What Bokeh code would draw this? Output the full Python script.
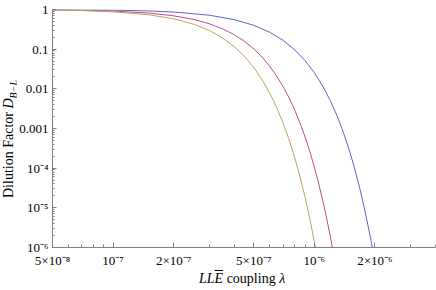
from bokeh.plotting import figure
from bokeh.models import FixedTicker, CustomJSTickFormatter, Div
from bokeh.layouts import row, column
from bokeh.embed import file_html
from bokeh.resources import INLINE

# coupling lambda (units of 1e-6) and dilution factor
lam_blue = [0.05, 0.07, 0.1, 0.15, 0.2, 0.3, 0.4, 0.5, 0.6, 0.7, 0.8, 0.9, 1.0,
            1.1, 1.2, 1.3, 1.4, 1.5, 1.6, 1.7, 1.8, 1.9, 2.0]
d_blue = [0.991, 0.982, 0.964, 0.921, 0.863, 0.719, 0.556, 0.400, 0.267, 0.166,
          0.0955, 0.0512, 0.0255, 0.0118, 5.07e-3, 2.03e-3, 7.5e-4, 2.6e-4,
          8.3e-5, 2.5e-5, 6.8e-6, 1.8e-6, 4.2e-7]

lam_red = [0.05, 0.07, 0.1, 0.15, 0.2, 0.25, 0.3, 0.35, 0.4, 0.45, 0.5, 0.55, 0.6,
           0.65, 0.7, 0.75, 0.8, 0.85, 0.9, 0.95, 1.0, 1.05, 1.1, 1.15, 1.2, 1.25]
d_red = [0.977, 0.956, 0.913, 0.814, 0.694, 0.565, 0.439, 0.326, 0.232, 0.157,
         0.102, 0.0630, 0.0372, 0.0210, 0.0113, 5.85e-3, 2.88e-3, 1.35e-3,
         6.09e-4, 2.62e-4, 1.07e-4, 4.19e-5, 1.57e-5, 5.62e-6, 1.92e-6, 6.27e-7]

lam_olive = [0.05, 0.07, 0.1, 0.15, 0.2, 0.25, 0.3, 0.35, 0.4, 0.45, 0.5, 0.55,
             0.6, 0.65, 0.7, 0.75, 0.8, 0.85, 0.9, 0.95, 1.0, 1.05]
d_olive = [0.967, 0.936, 0.874, 0.739, 0.583, 0.431, 0.298, 0.192, 0.116, 0.0654,
           0.0345, 0.0170, 7.84e-3, 3.38e-3, 1.36e-3, 5.12e-4, 1.80e-4, 5.94e-5,
           1.83e-5, 5.25e-6, 1.41e-6, 3.55e-7]

LAM_UNIT = 1e-6

x_ticks = [5e-8, 1e-7, 2e-7, 5e-7, 1e-6, 2e-6]
x_tick_labels = ["5×10⁻⁸", "10⁻⁷", "2×10⁻⁷", "5×10⁻⁷", "10⁻⁶", "2×10⁻⁶"]
x_minor = [6e-8, 7e-8, 8e-8, 9e-8, 3e-7, 4e-7, 6e-7, 7e-7, 8e-7, 9e-7, 3e-6, 4e-6]

y_ticks = [1e-6, 1e-5, 1e-4, 1e-3, 1e-2, 1e-1, 1.0]
y_tick_labels = ["10⁻⁶", "10⁻⁵", "10⁻⁴", "0.001", "0.01", "0.1", "1"]
y_minor = [m * 10.0 ** k for k in range(-6, 0) for m in range(2, 10)]

colors = ["#6262cc", "#bf4a88", "#bba75e"]

FONT = "Liberation Serif"

p = figure(width=420, height=270, x_axis_type="log", y_axis_type="log",
           x_range=(5e-8, 4e-6), y_range=(1e-6, 1.0),
           output_backend="svg", toolbar_location=None,
           min_border_left=34, min_border_right=1, min_border_top=9,
           min_border_bottom=23, margin=(0, 0, 0, 0))
p.grid.visible = False
p.outline_line_color = None
p.background_fill_color = "white"
p.border_fill_color = "white"

for lam, d, c in [(lam_blue, d_blue, colors[0]), (lam_red, d_red, colors[1]),
                  (lam_olive, d_olive, colors[2])]:
    p.line([v * LAM_UNIT for v in lam], d, line_color=c, line_width=1)

fmt_code = """
for (let i = 0; i < vals.length; i++) {
  if (Math.abs(Math.log10(tick) - Math.log10(vals[i])) < 1e-6) return labs[i];
}
return '';
"""
p.xaxis.ticker = FixedTicker(ticks=x_ticks, minor_ticks=x_minor)
p.xaxis.formatter = CustomJSTickFormatter(args=dict(vals=x_ticks, labs=x_tick_labels), code=fmt_code)
p.yaxis.ticker = FixedTicker(ticks=y_ticks, minor_ticks=y_minor)
p.yaxis.formatter = CustomJSTickFormatter(args=dict(vals=y_ticks, labs=y_tick_labels), code=fmt_code)

for ax in (p.xaxis[0], p.yaxis[0]):
    ax.axis_line_color = "#808080"
    ax.major_tick_line_color = "#808080"
    ax.minor_tick_line_color = "#808080"
    ax.major_tick_out = 0
    ax.minor_tick_out = 0
    ax.major_label_text_font = FONT
    ax.major_label_text_font_size = "13px"
    ax.major_label_text_color = "black"

p.xaxis.major_tick_in = 5
p.xaxis.minor_tick_in = 3
p.yaxis.major_tick_in = 4
p.yaxis.minor_tick_in = 2
p.xaxis.major_label_standoff = 5
p.yaxis.major_label_standoff = 4

base = "font-family:'Liberation Serif';font-size:14px;line-height:14px;color:black;white-space:nowrap;"

ylab_html = (
    '<div style="position:relative;width:16px;height:290px;">'
    '<div style="position:absolute;left:2px;top:198px;transform:rotate(-90deg);'
    'transform-origin:0 0;' + base + '">'
    'Dilution Factor <i>D</i><sub style="font-size:10px;"><i>B−L</i></sub>'
    '</div></div>'
)
xlab_html = (
    '<div style="position:relative;width:420px;height:20px;">'
    '<div style="position:absolute;left:183px;top:2px;' + base + '">'
    '<i>LL<span style="text-decoration:overline;">E</span></i> coupling <i>λ</i>'
    '</div></div>'
)

ylab = Div(text=ylab_html, width=16, height=290, margin=(0, 0, 0, 0))
xlab = Div(text=xlab_html, width=420, height=20, margin=(0, 0, 0, 0))

layout = row(ylab, column(p, xlab, spacing=0), spacing=0)

open("out.html", "w").write(file_html(layout, INLINE))
